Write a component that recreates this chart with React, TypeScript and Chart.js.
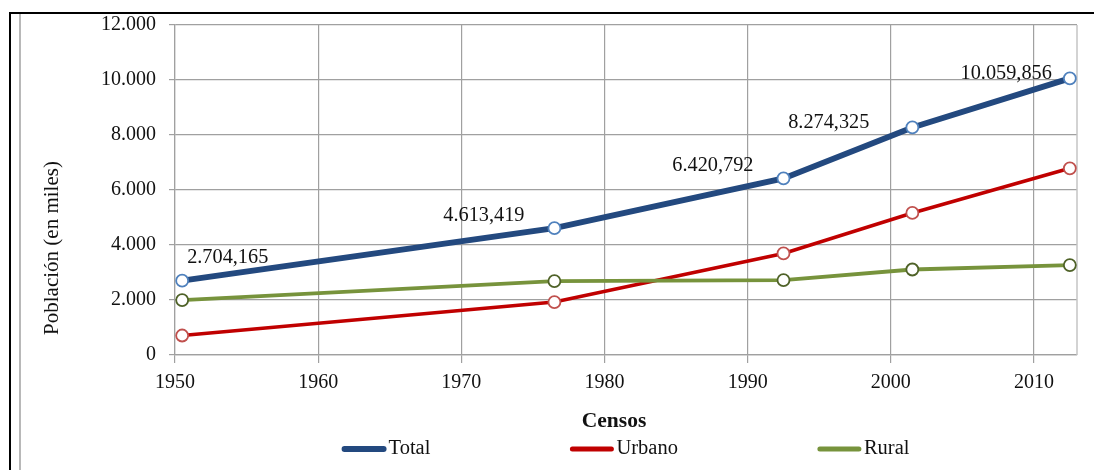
import React, { useEffect, useRef } from 'react';
import { Chart, registerables } from 'chart.js';

Chart.register(...registerables);

// ---- data (population in thousands) ----
const censusYears = [1950.5, 1976.5, 1992.5, 2001.5, 2012.5];
const totalValues = [2704.165, 4613.419, 6420.792, 8274.325, 10059.856];
const urbanValues = [708.568, 1925.84, 3694.846, 5165.23, 6788.962];
const ruralValues = [1995.597, 2687.579, 2725.946, 3109.095, 3270.894];
const totalLabels = ['2.704,165', '4.613,419', '6.420,792', '8.274,325', '10.059,856'];
const seriesNames = ['Total', 'Urbano', 'Rural'];
const xTicks = [1950, 1960, 1970, 1980, 1990, 2000, 2010];
const yTicks = [0, 2000, 4000, 6000, 8000, 10000, 12000];
const xTitle = 'Censos';
const yTitle = 'Población (en miles)';

// label placement relative to each Total point (dx, dy, align)
const labelPlacement: [number, number, CanvasTextAlign][] = [
  [5, -23, 'left'],
  [-30, -12, 'right'],
  [-30, -13, 'right'],
  [-43, -5, 'right'],
  [-18, -5, 'right'],
];

const FONT = "'Liberation Serif', 'Times New Roman', serif";
const COLORS = ['#23497F', '#C00000', '#77933C'];
const POINT_BORDERS = ['#4F81BD', '#C0504D', '#4F6228'];
const LINE_WIDTHS = [6, 3.6, 3.8];

const fmtThousands = (v: number) =>
  v === 0 ? '0' : `${Math.floor(v / 1000)}.${String(v % 1000).padStart(3, '0')}`;

const overlayPlugin = {
  id: 'overlay',
  beforeDatasetsDraw(chart: any) {
    const { ctx, chartArea } = chart;
    ctx.save();
    ctx.strokeStyle = '#c4c4c4';
    ctx.lineWidth = 1.5;
    ctx.beginPath();
    ctx.moveTo(chartArea.right, chartArea.top);
    ctx.lineTo(chartArea.right, chartArea.bottom);
    ctx.stroke();
    ctx.restore();
  },
  afterDraw(chart: any) {
    const { ctx, chartArea } = chart;
    ctx.save();
    // data labels for Total
    const meta = chart.getDatasetMeta(0);
    ctx.font = `20.3px ${FONT}`;
    ctx.fillStyle = '#111';
    ctx.textBaseline = 'middle';
    meta.data.forEach((pt: any, i: number) => {
      const [dx, dy, align] = labelPlacement[i];
      ctx.textAlign = align;
      ctx.fillText(totalLabels[i], pt.x + dx, pt.y + dy);
    });

    // y title
    ctx.save();
    ctx.translate(52, 248);
    ctx.rotate(-Math.PI / 2);
    ctx.textAlign = 'center';
    ctx.textBaseline = 'middle';
    ctx.font = `21px ${FONT}`;
    ctx.fillText(yTitle, 0, 0);
    ctx.restore();

    // x title
    ctx.font = `bold 21.5px ${FONT}`;
    ctx.textAlign = 'center';
    ctx.textBaseline = 'middle';
    ctx.fillText(xTitle, 614, 421);

    // legend
    ctx.font = `20.5px ${FONT}`;
    const markW = 43;
    const gapText = 3;
    const itemGap = 140;
    const widths = seriesNames.map((n) => markW + gapText + ctx.measureText(n).width);
    const totalW = widths.reduce((a, b) => a + b, 0) + itemGap * (seriesNames.length - 1);
    let x = (chartArea.left + chartArea.right) / 2 - totalW / 2;
    const ly = 449;
    seriesNames.forEach((n, i) => {
      ctx.strokeStyle = COLORS[i];
      ctx.lineWidth = i === 0 ? 6 : 5;
      ctx.lineCap = 'round';
      ctx.beginPath();
      ctx.moveTo(x + 2, ly);
      ctx.lineTo(x + markW - 2, ly);
      ctx.stroke();
      ctx.fillStyle = '#111';
      ctx.textAlign = 'left';
      ctx.textBaseline = 'middle';
      ctx.fillText(n, x + markW + gapText, ly);
      x += widths[i] + itemGap;
    });
    ctx.restore();
  },
};

function makeDataset(label: string, values: number[], i: number) {
  return {
    label,
    data: censusYears.map((x, k) => ({ x, y: values[k] })),
    borderColor: COLORS[i],
    borderWidth: LINE_WIDTHS[i],
    backgroundColor: '#ffffff',
    pointBackgroundColor: '#ffffff',
    pointBorderColor: POINT_BORDERS[i],
    pointBorderWidth: 1.8,
    pointRadius: 6,
    tension: 0,
    order: -i,
  };
}

export default function App() {
  const ref = useRef<HTMLCanvasElement>(null);
  useEffect(() => {
    if (!ref.current) return;
    const chart = new Chart(ref.current, {
      type: 'line',
      data: {
        datasets: [
          makeDataset(seriesNames[0], totalValues, 0),
          makeDataset(seriesNames[1], urbanValues, 1),
          makeDataset(seriesNames[2], ruralValues, 2),
        ],
      },
      options: {
        responsive: false,
        animation: false,
        layout: { padding: { left: 0, right: 17, top: 25, bottom: 75 } },
        plugins: { legend: { display: false }, tooltip: { enabled: false } },
        scales: {
          x: {
            type: 'linear',
            min: 1950,
            max: 2013,
            afterBuildTicks: (s: any) => {
              s.ticks = xTicks.map((v) => ({ value: v }));
            },
            afterFit: (s: any) => {
              s.height = 40;
            },
            grid: { color: '#a0a0a0', lineWidth: 1.2, tickLength: 8, drawTicks: true },
            border: { color: '#a0a0a0', width: 1.2 },
            ticks: {
              color: '#111',
              padding: 8,
              maxRotation: 0,
              font: { family: FONT, size: 20 },
              callback: (v: any) => String(v),
            },
          },
          y: {
            min: 0,
            max: 12000,
            afterBuildTicks: (s: any) => {
              s.ticks = yTicks.map((v) => ({ value: v }));
            },
            afterFit: (s: any) => {
              s.width = 175;
            },
            grid: { color: '#a0a0a0', lineWidth: 1.2, tickLength: 6, drawTicks: true },
            border: { color: '#a0a0a0', width: 1.2 },
            ticks: {
              color: '#111',
              padding: 13,
              font: { family: FONT, size: 20 },
              callback: (v: any) => fmtThousands(Number(v)),
            },
          },
        },
      },
      plugins: [overlayPlugin],
    });
    return () => chart.destroy();
  }, []);

  return (
    <div
      style={{
        position: 'fixed',
        left: 0,
        top: 0,
        width: 1094,
        height: 470,
        background: '#fff',
        overflow: 'hidden',
      }}
    >
      <div
        style={{
          position: 'absolute',
          left: 9,
          top: 12,
          width: 1100,
          height: 480,
          borderTop: '2px solid #000',
          borderLeft: '2px solid #000',
        }}
      />
      <div
        style={{
          position: 'absolute',
          left: 19,
          top: 14,
          width: 1.5,
          height: 470,
          background: '#b8b8b8',
        }}
      />
      <canvas
        ref={ref}
        width={1094}
        height={470}
        style={{ position: 'absolute', left: 0, top: 0, width: 1094, height: 470 }}
      />
    </div>
  );
}
